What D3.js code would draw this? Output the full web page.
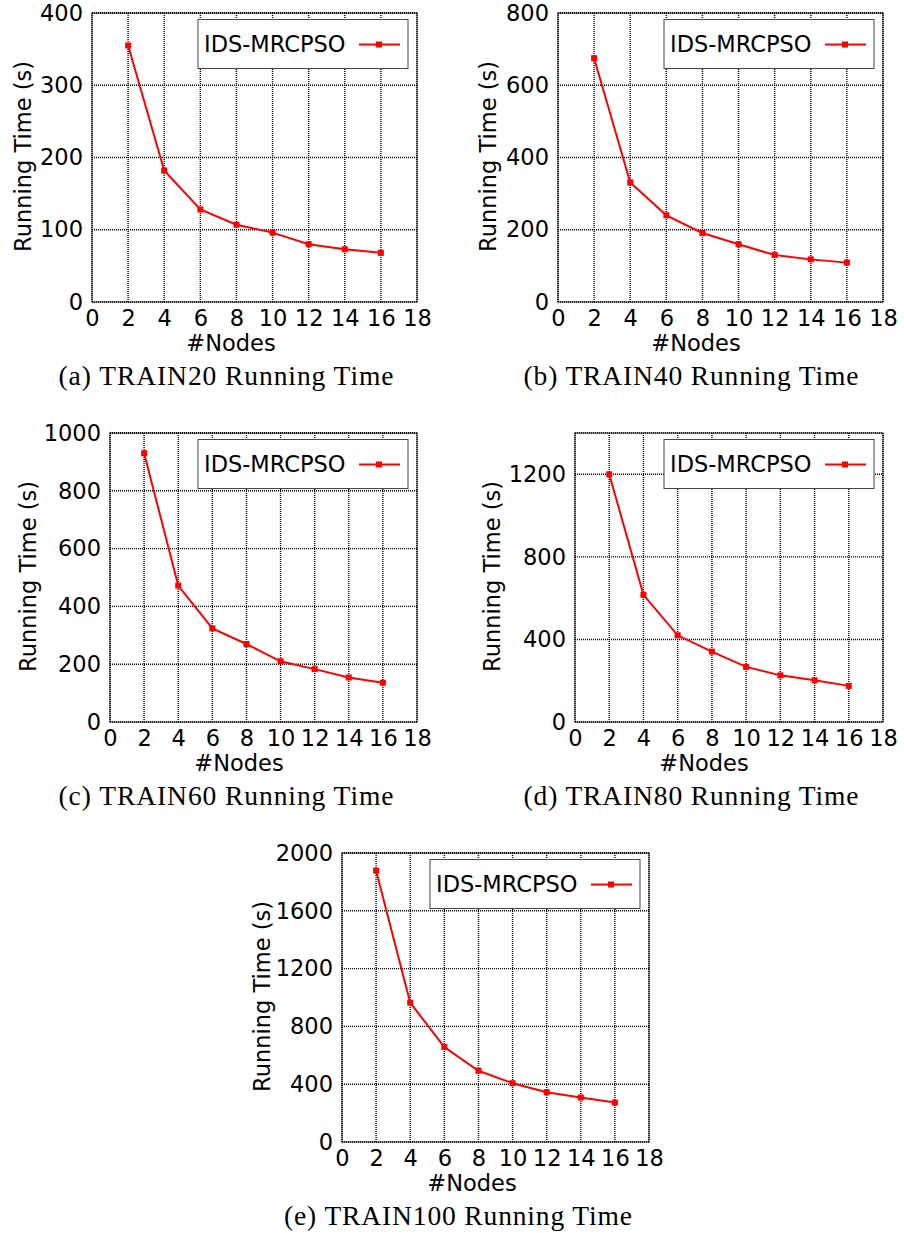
<!DOCTYPE html>
<html>
<head>
<meta charset="utf-8">
<script src="https://cdn.jsdelivr.net/npm/d3@7"></script>
<style>
  body { margin: 0; background: #fff; }
  svg { display: block; }
</style>
</head>
<body>
<div id="chart"></div>
<script>
// data
const nodes = [2, 4, 6, 8, 10, 12, 14, 16];
const xTicks = [0, 2, 4, 6, 8, 10, 12, 14, 16, 18];

const train20 = [355, 182, 128, 107, 96, 80, 73, 68];
const train40 = [675, 331, 240, 191, 160, 130, 118, 109];
const train60 = [930, 472, 324, 270, 210, 183, 154, 136];
const train80 = [1200, 616, 420, 341, 267, 226, 202, 175];
const train100 = [1878, 964, 657, 493, 407, 345, 308, 273];

const yTicks20 = [0, 100, 200, 300, 400];
const yTicks40 = [0, 200, 400, 600, 800];
const yTicks60 = [0, 200, 400, 600, 800, 1000];
const yTicks80 = [0, 400, 800, 1200];
const yTicks100 = [0, 400, 800, 1200, 1600, 2000];

const captions = [
  "(a) TRAIN20 Running Time",
  "(b) TRAIN40 Running Time",
  "(c) TRAIN60 Running Time",
  "(d) TRAIN80 Running Time",
  "(e) TRAIN100 Running Time",
];
const seriesName = "IDS-MRCPSO";

// panel layout (pixel boxes of each plot area)
const panels = [
  { values: train20, yTicks: yTicks20, yMax: 400, left: 92, right: 417, top: 13, bottom: 302, yLabelX: 23, xLabelX: 231, capX: 226 },
  { values: train40, yTicks: yTicks40, yMax: 800, left: 558, right: 883, top: 13, bottom: 302, yLabelX: 488, xLabelX: 696, capX: 691 },
  { values: train60, yTicks: yTicks60, yMax: 1000, left: 110, right: 417, top: 433, bottom: 722, yLabelX: 28, xLabelX: 239, capX: 226 },
  { values: train80, yTicks: yTicks80, yMax: 1400, left: 575, right: 883, top: 433, bottom: 722, yLabelX: 492, xLabelX: 704, capX: 691 },
  { values: train100, yTicks: yTicks100, yMax: 2000, left: 342, right: 649, top: 853, bottom: 1142, yLabelX: 262, xLabelX: 472, capX: 458 },
];

const sans = "'DejaVu Sans', sans-serif";
const serif = "'Liberation Serif', 'DejaVu Serif', serif";
const fs = 22.5;

const svg = d3
  .select("#chart")
  .append("svg")
  .attr("width", 904)
  .attr("height", 1233);

panels.forEach((p, i) => {
  const x = d3.scaleLinear().domain([0, 18]).range([p.left, p.right]);
  const y = d3.scaleLinear().domain([0, p.yMax]).range([p.bottom, p.top]);
  const g = svg.append("g");

  // border
  g.append("rect")
    .attr("x", p.left)
    .attr("y", p.top)
    .attr("width", p.right - p.left)
    .attr("height", p.bottom - p.top)
    .attr("fill", "none")
    .attr("stroke", "#333")
    .attr("stroke-width", 1);

  // dotted grid
  g.selectAll(".vgrid")
    .data(xTicks)
    .enter()
    .append("line")
    .attr("x1", (d) => x(d))
    .attr("x2", (d) => x(d))
    .attr("y1", p.top)
    .attr("y2", p.bottom)
    .attr("stroke", "#000")
    .attr("stroke-width", 1.4)
    .attr("stroke-dasharray", "1,1");

  g.selectAll(".hgrid")
    .data(p.yTicks.concat([p.yMax]))
    .enter()
    .append("line")
    .attr("x1", p.left)
    .attr("x2", p.right)
    .attr("y1", (d) => y(d))
    .attr("y2", (d) => y(d))
    .attr("stroke", "#000")
    .attr("stroke-width", 1.4)
    .attr("stroke-dasharray", "1,1");

  // axes (text only, grid already drawn)
  const xAxis = g
    .append("g")
    .attr("transform", `translate(0,${p.bottom})`)
    .call(d3.axisBottom(x).tickValues(xTicks).tickSize(0).tickPadding(8));
  xAxis.select(".domain").remove();
  xAxis
    .selectAll("text")
    .attr("font-family", sans)
    .attr("font-size", fs)
    .attr("fill", "#000");

  const yAxis = g
    .append("g")
    .attr("transform", `translate(${p.left},0)`)
    .call(
      d3.axisLeft(y).tickValues(p.yTicks).tickFormat(d3.format("d")).tickSize(0).tickPadding(9)
    );
  yAxis.select(".domain").remove();
  yAxis
    .selectAll("text")
    .attr("font-family", sans)
    .attr("font-size", fs)
    .attr("fill", "#000");

  // axis titles
  g.append("text")
    .attr("x", p.xLabelX)
    .attr("y", p.bottom + 41)
    .attr("dy", "0.35em")
    .attr("text-anchor", "middle")
    .attr("font-family", sans)
    .attr("font-size", fs)
    .text("#Nodes");

  g.append("text")
    .attr("transform", `translate(${p.yLabelX},${(p.top + p.bottom) / 2 - 1}) rotate(-90)`)
    .attr("dy", "0.35em")
    .attr("text-anchor", "middle")
    .attr("font-family", sans)
    .attr("font-size", fs)
    .text("Running Time (s)");

  // series
  const line = d3
    .line()
    .x((d, j) => x(nodes[j]))
    .y((d) => y(d));

  g.append("path")
    .datum(p.values)
    .attr("d", line)
    .attr("fill", "none")
    .attr("stroke", "#ff0000")
    .attr("stroke-width", 2);

  g.selectAll(".pt")
    .data(p.values)
    .enter()
    .append("rect")
    .attr("x", (d, j) => x(nodes[j]) - 3)
    .attr("y", (d) => y(d) - 3)
    .attr("width", 6)
    .attr("height", 6)
    .attr("fill", "#ff0000");

  // legend
  const lw = 210, lh = 49;
  const lx = p.right - 9 - lw, ly = p.top + 6.5;
  g.append("rect")
    .attr("x", lx)
    .attr("y", ly)
    .attr("width", lw)
    .attr("height", lh)
    .attr("fill", "#fff")
    .attr("stroke", "#444")
    .attr("stroke-width", 1);
  g.append("text")
    .attr("x", lx + 6)
    .attr("y", ly + 25)
    .attr("dy", "0.35em")
    .attr("font-family", sans)
    .attr("font-size", fs)
    .text(seriesName);
  g.append("line")
    .attr("x1", lx + lw - 49)
    .attr("x2", lx + lw - 8)
    .attr("y1", ly + 25)
    .attr("y2", ly + 25)
    .attr("stroke", "#ff0000")
    .attr("stroke-width", 2);
  g.append("rect")
    .attr("x", lx + lw - 32)
    .attr("y", ly + 22)
    .attr("width", 6)
    .attr("height", 6)
    .attr("fill", "#ff0000");

  // caption
  g.append("text")
    .attr("x", p.capX)
    .attr("y", p.bottom + 73)
    .attr("dy", "0.35em")
    .attr("text-anchor", "middle")
    .attr("font-family", serif)
    .attr("font-size", 27.5)
    .attr("textLength", i === 4 ? 348 : 335)
    .attr("lengthAdjust", "spacing")
    .text(captions[i]);
});
</script>
</body>
</html>
